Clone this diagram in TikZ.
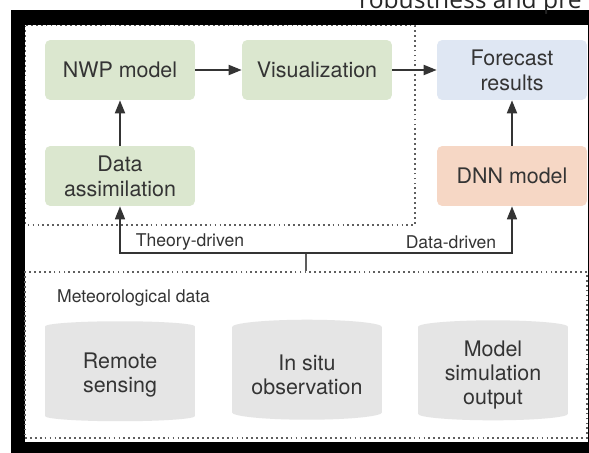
\documentclass[tikz,border=0pt]{standalone}
\usepackage{fontspec}
\setmainfont{TeX Gyre Heros}
\newfontfamily\captionfont{Open Sans}
\usepackage{tikz}
\usetikzlibrary{positioning, arrows.meta, shapes.geometric}

\definecolor{boxgreen}{RGB}{219,231,207}
\definecolor{boxblue}{RGB}{223,231,243}
\definecolor{boxorange}{RGB}{246,215,197}
\definecolor{cylgray}{RGB}{229,229,229}
\definecolor{inkgray}{RGB}{52,52,52}
\definecolor{dotgray}{RGB}{95,95,95}

\begin{document}
\begin{tikzpicture}[x=0.02cm, y=-0.02cm,
    arrow/.style={-{Triangle[length=2.6mm, width=2mm]}, line width=1.1pt, draw=inkgray},
    link/.style={line width=0.9pt, draw=inkgray!80},
    stage/.style={rounded corners=3pt, minimum width=3cm, minimum height=1.2cm, align=center,
        text=inkgray, font=\fontsize{12.2}{14.2}\selectfont},
    dotbox/.style={draw=dotgray, line width=1.1pt, dash pattern=on 1pt off 1.8pt},
    store/.style={cylinder, shape border rotate=90, aspect=0.12, fill=cylgray,
        minimum width=3cm, minimum height=2cm, align=center, text=inkgray,
        font=\fontsize{12.2}{13.8}\selectfont},
    tag/.style={text=inkgray, font=\fontsize{10}{12}\selectfont}
]
    \clip (0,0) rectangle (589,453);

    % === Frame of the screenshot ===
    \fill[white] (0,0) rectangle (589,453);
    \fill[black] (11,10) rectangle (589,453);
    \fill[white] (25,25) rectangle (588,442);
    \node[anchor=base west, font=\captionfont\fontsize{14}{16}\selectfont, text=black!85]
        (caption) at (353,9) {robustness and pre};

    % === Theory-driven region ===
    \draw[dotbox] (25.5,25.5) rectangle (415,225);

    % Upper row
    \node[stage, fill=boxgreen] (nwp) at (120,70) {NWP model};
    \node[stage, fill=boxgreen] (vis) at (317,70) {Visualization};
    \node[stage, fill=boxblue] (forecast) at (512,70) {Forecast\\results};

    % Lower row
    \node[stage, fill=boxgreen] (assim) at (120,176) {Data\\assimilation};
    \node[stage, fill=boxorange] (dnn) at (512,176) {DNN model};

    \draw[arrow] (nwp) -- (vis);
    \draw[arrow] (vis) -- (forecast);
    \draw[arrow] (assim) -- (nwp);
    \draw[arrow] (dnn) -- (forecast);

    % === Meteorological data ===
    \node[dotbox, minimum width=11.24cm, minimum height=3.32cm] (metdata) at (306,355) {};
    \node[tag, anchor=west] (metlabel) at (51,298) {Meteorological data};

    \node[store] (remote) at (120,375) {Remote\\sensing};
    \node[store] (insitu) at (307,375) {In situ\\observation};
    \node[store] (modelout) at (493,375) {Model\\simulation\\output};

    % Branches
    \coordinate (split) at (306,253);
    \draw[link] (metdata.north) -- (split);
    \draw[arrow, line width=0.9pt] (split) -| (assim);
    \draw[arrow, line width=0.9pt] (split) -| (dnn);
    \node[tag] (theory) at (190,242) {Theory-driven};
    \node[tag] (datadriven) at (451,242) {Data-driven};
\end{tikzpicture}
\end{document}
